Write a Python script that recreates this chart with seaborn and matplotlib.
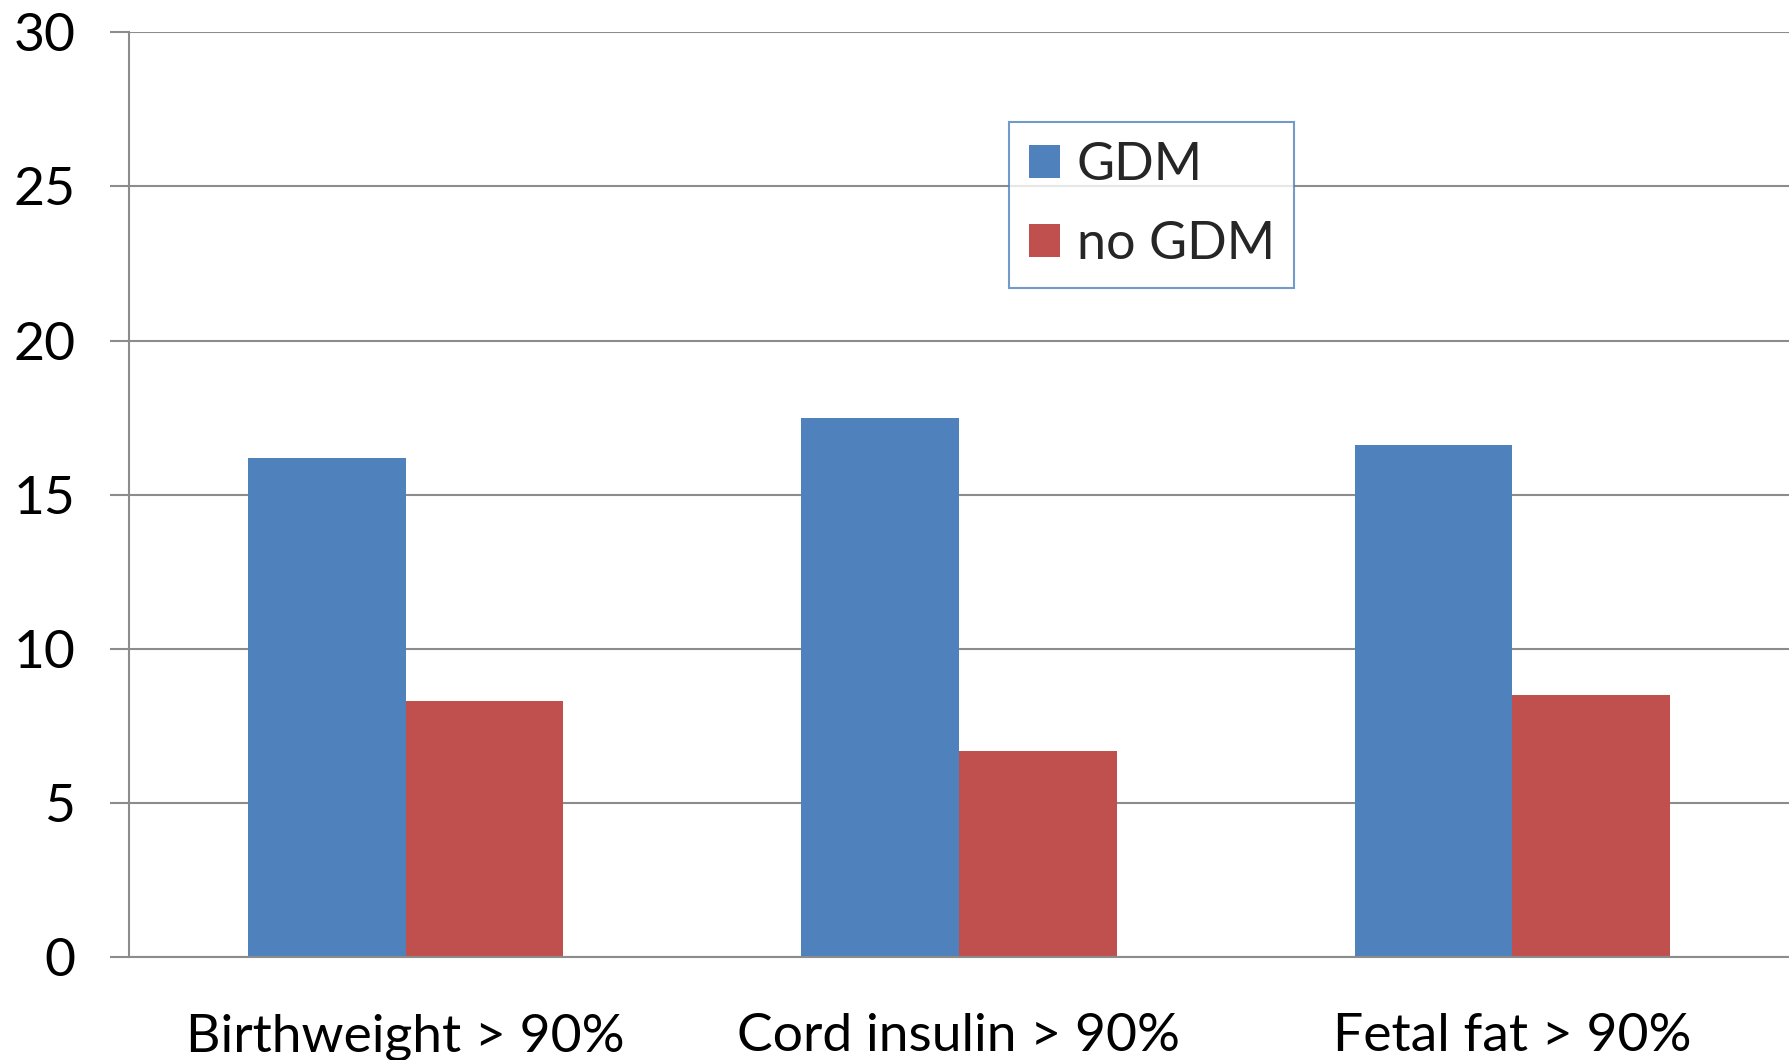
import matplotlib
matplotlib.use("Agg")
import matplotlib.pyplot as plt
import seaborn as sns
import pandas as pd
from matplotlib.patches import Patch

categories = ["Birthweight > 90%", "Cord insulin > 90%", "Fetal fat > 90%"]
series_names = ["GDM", "no GDM"]
gdm_values = [16.2, 17.5, 16.6]
no_gdm_values = [8.3, 6.7, 8.5]
y_ticks = [0, 5, 10, 15, 20, 25, 30]

colors = {"GDM": "#4F81BD", "no GDM": "#C0504D"}
grid_color = "#8C8C8C"

df = pd.DataFrame({
    "category": categories * 2,
    "group": [series_names[0]] * 3 + [series_names[1]] * 3,
    "value": gdm_values + no_gdm_values,
})

sns.set_theme(style="white")
plt.rcParams["font.family"] = ["Lato", "DejaVu Sans"]

fig = plt.figure(figsize=(17.89, 10.60), dpi=100)
ax = fig.add_axes([0.0721, 0.0967, 0.9279, 0.8731])

sns.barplot(data=df, x="category", y="value", hue="group", order=categories,
            hue_order=series_names, palette=colors, width=0.57, gap=0,
            linewidth=0, saturation=1, ax=ax, legend=False)

ax.set_xlim(-0.5, 2.5)
ax.set_ylim(0, 30)
ax.set_yticks(y_ticks)
ax.set_yticklabels([str(t) for t in y_ticks])
ax.set_xlabel("")
ax.set_ylabel("")

# horizontal gridlines behind the bars
ax.set_axisbelow(True)
ax.yaxis.grid(True, color=grid_color, linewidth=1.5)
ax.xaxis.grid(False)

for side in ["top", "right"]:
    ax.spines[side].set_visible(False)
for side in ["left", "bottom"]:
    ax.spines[side].set_color(grid_color)
    ax.spines[side].set_linewidth(1.5)

# category boundaries carry the tick marks, labels sit at the centres
ax.set_xticks([-0.5, 0.5, 1.5, 2.5], minor=True)
ax.tick_params(axis="x", which="major", length=0, pad=40, labelsize=38.5, labelcolor="black")
ax.tick_params(axis="x", which="minor", length=13.5, width=1.5, color=grid_color, direction="out")
ax.tick_params(axis="y", which="major", length=13.5, width=1.5, color=grid_color,
               direction="out", left=True, pad=25, labelsize=38.5, labelcolor="black")

handles = [Patch(facecolor=colors[n], edgecolor="none", label=n) for n in series_names]
leg = ax.legend(handles=handles, loc="upper left", bbox_to_anchor=(0.530, 0.903),
                frameon=True, fancybox=False, fontsize=37.5, handlelength=0.6,
                handleheight=0.6, handletextpad=0.32, labelspacing=0.62,
                borderpad=0.38, borderaxespad=0)
leg.get_frame().set_edgecolor("#4F81BD")
leg.get_frame().set_linewidth(1.5)

fig.savefig("out.png", dpi=100, facecolor="white")
